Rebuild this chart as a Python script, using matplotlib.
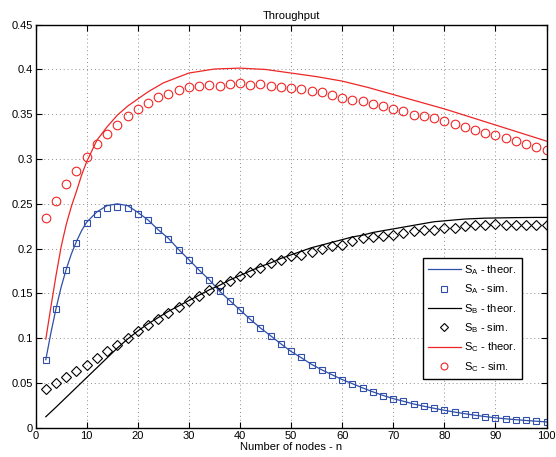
import numpy as np
import matplotlib
matplotlib.use('Agg')
import matplotlib.pyplot as plt

plt.rcParams['font.family'] = ['Liberation Sans', 'DejaVu Sans']
plt.rcParams['mathtext.fontset'] = 'custom'
plt.rcParams['mathtext.rm'] = 'Liberation Sans'

#######################################################################
# data

n_sim = np.arange(2, 101, 2)

sA_sim = [0.0759, 0.133, 0.1765, 0.2063, 0.2291, 0.2388, 0.2448, 0.2466,
          0.2452, 0.2385, 0.2314, 0.2205, 0.2112, 0.1989, 0.1877, 0.176,
          0.1652, 0.1525, 0.142, 0.1316, 0.1211, 0.1114, 0.1027, 0.0937,
          0.0852, 0.0785, 0.0706, 0.0647, 0.0594, 0.0538, 0.0493, 0.0445,
          0.0400, 0.0359, 0.0322, 0.0300, 0.0262, 0.024, 0.0218, 0.0195,
          0.0173, 0.0157, 0.0139, 0.0123, 0.0109, 0.0101, 0.009, 0.0083,
          0.0075, 0.0064]

sB_sim = [0.0434, 0.0501, 0.0565, 0.0636, 0.0706, 0.0778, 0.0852, 0.0924,
          0.1002, 0.1076, 0.1151, 0.1219, 0.1286, 0.1353, 0.1417, 0.1476,
          0.1533, 0.1589, 0.1641, 0.1689, 0.1734, 0.1783, 0.1835, 0.187,
          0.1915, 0.1929, 0.1966, 0.2, 0.2026, 0.2045, 0.2085, 0.2119,
          0.213, 0.2141, 0.2153, 0.2179, 0.2202, 0.2205, 0.2205, 0.2235,
          0.2228, 0.2253, 0.2261, 0.2265, 0.2272, 0.2261, 0.2265, 0.2265,
          0.2258, 0.2265]

sC_sim = [0.2345, 0.2536, 0.272, 0.287, 0.3025, 0.3167, 0.328, 0.3376,
          0.348, 0.356, 0.363, 0.369, 0.3724, 0.3776, 0.380, 0.381, 0.383,
          0.382, 0.384, 0.3847, 0.383, 0.384, 0.3815, 0.3808, 0.3795,
          0.378, 0.3758, 0.375, 0.372, 0.3683, 0.366, 0.365, 0.3615, 0.359,
          0.356, 0.3533, 0.349, 0.3484, 0.3458, 0.3425, 0.3388, 0.3358,
          0.3327, 0.3294, 0.3265, 0.3238, 0.320, 0.317, 0.313, 0.3096]

n_thA = [2, 3, 4, 5, 6, 7, 8, 9, 10, 12, 14, 16, 18, 20, 22, 24, 26, 28,
         30, 32, 34, 36, 38, 40, 42, 44, 46, 48, 50, 52, 54, 56, 58, 60,
         62, 64, 66, 68, 70, 72, 74, 76, 78, 80, 82, 84, 86, 88, 90, 92,
         94, 96, 98, 100]
sA_th = [0.076, 0.106, 0.133, 0.157, 0.177, 0.194, 0.208, 0.220, 0.2295,
         0.241, 0.248, 0.250, 0.248, 0.2405, 0.232, 0.221, 0.2115, 0.199,
         0.1877, 0.176, 0.1652, 0.1525, 0.142, 0.1316, 0.1211, 0.1114,
         0.1027, 0.0937, 0.0852, 0.0782, 0.0708, 0.0647, 0.0592, 0.0538,
         0.0492, 0.0445, 0.0401, 0.0361, 0.0325, 0.0296, 0.0265, 0.0240,
         0.0217, 0.0195, 0.0175, 0.0157, 0.0140, 0.0125, 0.0111, 0.0100,
         0.0090, 0.0081, 0.0073, 0.0065]

n_thB = [2, 4, 6, 8, 10, 12, 14, 16, 18, 20, 22, 24, 26, 28, 30, 32, 34,
         36, 38, 40, 42, 44, 46, 48, 50, 52, 54, 56, 58, 60, 62, 64, 66,
         68, 70, 72, 74, 76, 78, 80, 82, 84, 86, 88, 90, 92, 94, 96, 98,
         100]
sB_th = [0.0123, 0.023, 0.034, 0.045, 0.056, 0.067, 0.078, 0.089, 0.099,
         0.108, 0.116, 0.123, 0.130, 0.136, 0.142, 0.148, 0.154, 0.159,
         0.165, 0.170, 0.175, 0.180, 0.184, 0.189, 0.193, 0.197, 0.201,
         0.204, 0.207, 0.210, 0.213, 0.215, 0.218, 0.220, 0.222, 0.224,
         0.226, 0.228, 0.230, 0.231, 0.232, 0.233, 0.2335, 0.234, 0.2342,
         0.2344, 0.2346, 0.2347, 0.2348, 0.2348]

n_thC = [2, 3, 4, 5, 6, 7, 8, 9, 10, 12, 14, 16, 18, 20, 22, 25, 30, 35,
         40, 45, 50, 55, 60, 65, 70, 75, 80, 85, 90, 95, 100]
sC_th = [0.099, 0.135, 0.170, 0.202, 0.227, 0.247, 0.264, 0.282, 0.297,
         0.321, 0.336, 0.349, 0.359, 0.367, 0.375, 0.385, 0.396, 0.4005,
         0.4015, 0.400, 0.396, 0.392, 0.387, 0.380, 0.372, 0.364, 0.356,
         0.347, 0.338, 0.329, 0.320]

#######################################################################

blue = '#2f4fa8'
red = '#ee2626'

fig = plt.figure(figsize=(5.56, 4.57), dpi=100)
ax = fig.add_axes([0.064, 0.064, 0.919, 0.882])

ax.plot(n_thA, sA_th, '-', color=blue, lw=0.9,
        label=r'S$_\mathregular{A}$ - theor.')
ax.plot(n_sim, sA_sim, 's', mfc='none', mec=blue, ms=5, mew=0.8,
        label=r'S$_\mathregular{A}$ - sim.')
ax.plot(n_thB, sB_th, '-', color='k', lw=0.9,
        label=r'S$_\mathregular{B}$ - theor.')
ax.plot(n_sim, sB_sim, 'D', mfc='none', mec='k', ms=5, mew=0.8,
        label=r'S$_\mathregular{B}$ - sim.')
ax.plot(n_thC, sC_th, '-', color=red, lw=0.9,
        label=r'S$_\mathregular{C}$ - theor.')
ax.plot(n_sim, sC_sim, 'o', mfc='none', mec=red, ms=6.2, mew=0.8,
        label=r'S$_\mathregular{C}$ - sim.')

ax.set_xlim(0, 100)
ax.set_ylim(0, 0.45)
ax.set_xticks(np.arange(0, 101, 10))
ax.set_yticks(np.arange(0, 0.451, 0.05))
ax.set_yticklabels(['0', '0.05', '0.1', '0.15', '0.2', '0.25', '0.3',
                    '0.35', '0.4', '0.45'])
ax.grid(True, linestyle=(0, (1, 3)), color='#8c8c8c', lw=0.7)
ax.tick_params(direction='in', top=True, right=True, labelsize=8,
               length=4, width=0.8, pad=2)
for s in ax.spines.values():
    s.set_linewidth(1.0)

ax.set_title('Throughput', fontsize=8, pad=4)
ax.set_xlabel('Number of nodes - n', fontsize=8, labelpad=1)

leg = ax.legend(loc='lower right', bbox_to_anchor=(0.963, 0.108),
                fontsize=8, fancybox=False, edgecolor='k',
                handlelength=3.0, labelspacing=0.5, borderpad=0.45,
                handletextpad=0.3, markerscale=0.8, framealpha=1)
leg.get_frame().set_linewidth(1.0)

plt.savefig('out.png', dpi=100)
plt.close('all')
